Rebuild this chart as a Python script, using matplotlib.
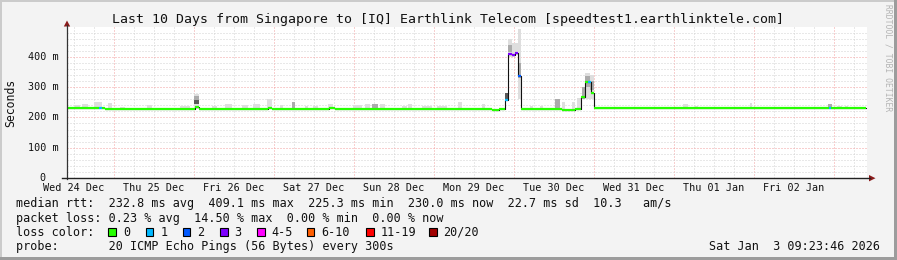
import matplotlib
matplotlib.use("Agg")
import matplotlib.pyplot as plt
from matplotlib.patches import Rectangle, Polygon
from matplotlib.lines import Line2D

# ---------------- data (time in hours since Wed 24 Dec 00:00, values in ms) -------------
t_start, t_end = 9.9, 249.9

median_t = [9.9, 19.5, 20.4, 21.3, 48.3, 49.5, 70.2, 71.4, 88.5, 90.3, 137.4, 139.5,
            141.3, 142.2, 143.4, 144.3, 145.2, 146.1, 158.4, 162.3, 164.1, 165.3,
            166.2, 167.1, 168.0, 238.5, 239.1]
median_ms = [232, 232, 232, 229, 235, 229, 232, 229, 232, 229, 225, 228,
             256, 409, 406, 413, 338, 228, 226, 228, 268, 318,
             318, 279, 230, 230, 230]
median_loss = [0, 1, 0, 0, 0, 0, 0, 0, 0, 0, 0, 0,
               1, 3, 3, 3, 2, 0, 0, 0, 0, 0,
               1, 0, 0, 1, 0]

smoke_t0 = [12.3, 14.4, 18.0, 22.2, 25.8, 33.9, 43.8, 48.0, 48.0, 48.0, 53.4, 57.3, 62.4,
            65.7, 69.9, 73.8, 77.4, 81.3, 83.7, 88.2, 95.7, 99.3, 101.4, 103.8, 110.4,
            112.2, 116.4, 120.9, 127.2, 134.4, 141.3, 142.2, 142.2, 143.4, 144.3, 145.2,
            145.2, 148.8, 151.8, 156.3, 158.4, 161.4, 162.9, 164.4, 165.3, 165.3, 166.8,
            166.8, 194.7, 198.3, 214.8, 238.2, 240.9, 243.3]
smoke_t1 = [13.8, 16.2, 20.4, 23.4, 27.3, 35.4, 46.8, 49.5, 49.5, 49.5, 54.9, 59.4, 64.2,
            67.8, 71.4, 74.7, 78.3, 82.2, 85.2, 89.7, 98.4, 100.8, 103.2, 105.3, 111.9,
            113.4, 119.4, 123.9, 128.4, 135.3, 142.2, 143.4, 143.4, 144.3, 145.2, 146.1,
            146.1, 149.7, 152.7, 157.8, 159.3, 162.3, 164.4, 165.3, 166.8, 166.8, 168.0,
            168.0, 196.2, 199.2, 215.4, 239.4, 242.4, 244.2]
smoke_lo = [228, 228, 228, 228, 228, 228, 228, 228, 245, 257, 228, 228, 228,
            228, 228, 228, 228, 228, 228, 228, 228, 228, 228, 228, 228,
            228, 228, 228, 228, 228, 255, 400, 415, 400, 405, 260,
            330, 228, 228, 228, 228, 228, 228, 262, 262, 300, 262,
            290, 228, 228, 228, 228, 228, 228]
smoke_hi = [241, 244, 251, 246, 235, 241, 237, 276, 257, 270, 238, 243, 241,
            243, 260, 241, 252, 238, 238, 244, 241, 243, 243, 243, 238,
            243, 238, 238, 252, 244, 279, 458, 440, 447, 447, 493,
            380, 238, 238, 260, 252, 252, 263, 301, 347, 335, 340,
            320, 244, 238, 246, 244, 238, 238]
smoke_shade = [0, 0, 0, 0, 0, 0, 0, 0, 2, 1, 0, 0, 0,
               0, 0, 0, 1, 0, 0, 0, 0, 0, 1, 0, 0,
               0, 0, 0, 0, 0, 2, 0, 1, 0, 0, 0,
               1, 0, 0, 1, 0, 0, 0, 1, 0, 1, 0,
               1, 0, 0, 0, 1, 0, 0]
shade_colors = ["#dedede", "#ababab", "#5a5a5a"]

day_labels = ["Wed 24 Dec", "Thu 25 Dec", "Fri 26 Dec", "Sat 27 Dec", "Sun 28 Dec",
              "Mon 29 Dec", "Tue 30 Dec", "Wed 31 Dec", "Thu 01 Jan", "Fri 02 Jan"]
y_ticks = [0, 100, 200, 300, 400]
y_tick_labels = ["0  ", "100 m", "200 m", "300 m", "400 m"]

loss_labels = ["0", "1", "2", "3", "4-5", "6-10", "11-19", "20/20"]
loss_colors = ["#26ff00", "#00b8ff", "#0059ff", "#7e00ff", "#ff00ff", "#ff5e00",
               "#ff0000", "#a10000"]

title = "Last 10 Days from Singapore to [IQ] Earthlink Telecom [speedtest1.earthlinktele.com]"
row_rtt = "median rtt:  232.8 ms avg  409.1 ms max  225.3 ms min  230.0 ms now  22.7 ms sd  10.3   am/s"
row_loss = "packet loss: 0.23 % avg  14.50 % max  0.00 % min  0.00 % now"
row_probe = "probe:       20 ICMP Echo Pings (56 Bytes) every 300s"
timestamp = "Sat Jan  3 09:23:46 2026"

# ---------------- layout -------------
W, H = 897, 260
MONO = "DejaVu Sans Mono"
plt.rcParams["font.family"] = [MONO]

fig = plt.figure(figsize=(W / 100, H / 100), dpi=100, facecolor="#f3f3f3")
px_left, px_right, px_bottom, px_top = 67, 867, 178, 26.5
ax = fig.add_axes([px_left / W, 1 - px_bottom / H, (px_right - px_left) / W,
                   (px_bottom - px_top) / H])
ax.set_facecolor("white")
for s in ax.spines.values():
    s.set_visible(False)

# grid
ax.set_xticks([24 * k for k in range(1, 11)])
ax.set_xticks([6 * k for k in range(2, 42)], minor=True)
ax.set_yticks([100, 200, 300, 400])
ax.set_yticks([20 * k for k in range(1, 25)], minor=True)
ax.tick_params(which="both", length=0, labelbottom=False, labelleft=False)
ax.grid(which="minor", color="#d2d2d2", lw=0.72, ls=(0, (1, 2)))
ax.grid(which="major", color="#f2a0a0", lw=0.72, ls=(0, (1, 2)))
ax.set_axisbelow(True)

# smoke
for a, b, lo, hi, sh in zip(smoke_t0, smoke_t1, smoke_lo, smoke_hi, smoke_shade):
    ax.bar(a, hi - lo, width=b - a, bottom=lo, align="edge",
           color=shade_colors[sh], lw=0, zorder=2)

# median
mt = median_t + [t_end - 0.3]
mv = median_ms + [median_ms[-1]]
ax.step(mt, mv, where="post", color="#111111", lw=0.8, zorder=3)
for i in range(len(median_t)):
    ax.hlines(median_ms[i], mt[i], mt[i + 1], color=loss_colors[median_loss[i]],
              lw=1.6, zorder=4)

ax.set_xlim(t_start, t_end)
ax.set_ylim(0, 500)

# tick labels
xt = ax.get_xaxis_transform()
for k, lab in enumerate(day_labels):
    ax.text(12 + 24 * k, -(187.7 - px_bottom) / (px_bottom - px_top), lab,
            transform=xt, ha="center", va="center", fontsize=7.3, color="#111111",
            family=MONO)
yt = ax.get_yaxis_transform()
for v, lab in zip(y_ticks, y_tick_labels):
    ax.text(-(px_left - 58.5) / (px_right - px_left), v, lab, transform=yt,
            ha="right", va="center", fontsize=7.3, color="#111111", family=MONO)

# ---------------- overlay in pixel coordinates -------------
ov = fig.add_axes([0, 0, 1, 1], facecolor="none", zorder=5)
ov.set_xlim(0, W)
ov.set_ylim(H, 0)
ov.axis("off")

# frame
ov.add_patch(Rectangle((0, 0), W, 2, color="#cbcbcb", lw=0))
ov.add_patch(Rectangle((0, 0), 2, H, color="#cbcbcb", lw=0))
ov.add_patch(Rectangle((0, H - 3), W, 3, color="#9c9c9c", lw=0))
ov.add_patch(Rectangle((W - 3, 0), 3, H, color="#9c9c9c", lw=0))

# axes lines with arrows
ov.add_line(Line2D([67, 67], [178.5, 25], color="#333333", lw=0.9))
ov.add_line(Line2D([62, 870], [178.2, 178.2], color="#222222", lw=1.0))
ov.add_patch(Polygon([(63.8, 26.5), (70.2, 26.5), (67, 20.5)], closed=True,
                     color="#8b1a1a", lw=0))
ov.add_patch(Polygon([(869, 175), (869, 181.4), (875.5, 178.2)], closed=True,
                     color="#8b1a1a", lw=0))

# titles
ov.text(448, 19, title, ha="center", va="center", fontsize=9.5, color="#111111")
ov.text(10.5, 103, "Seconds", rotation=90, ha="center", va="center", fontsize=8.3,
        color="#111111")
ov.text(888, 58, "RRDTOOL / TOBI OETIKER", rotation=270, ha="center", va="center",
        fontsize=5.8, color="#b4b4b4")

# legend rows
FS = 8.5
ov.text(16, 204, row_rtt, ha="left", va="center", fontsize=FS, color="#111111")
ov.text(16, 218.3, row_loss, ha="left", va="center", fontsize=FS, color="#111111")
ov.text(16, 232.3, "loss color:", ha="left", va="center", fontsize=FS, color="#111111")
box_x = [108.3, 145.7, 182.7, 220, 257, 306.7, 366, 429]
for x, lab, c in zip(box_x, loss_labels, loss_colors):
    ov.add_patch(Rectangle((x, 228.3), 7.5, 8, facecolor=c, edgecolor="black", lw=0.8))
    ov.text(x + 14.5, 232.3, lab, ha="left", va="center", fontsize=FS, color="#111111")
ov.text(16, 246.3, row_probe, ha="left", va="center", fontsize=FS, color="#111111")
ov.text(880, 246.3, timestamp, ha="right", va="center", fontsize=FS, color="#111111")

fig.savefig("out.png", dpi=100, facecolor=fig.get_facecolor())
